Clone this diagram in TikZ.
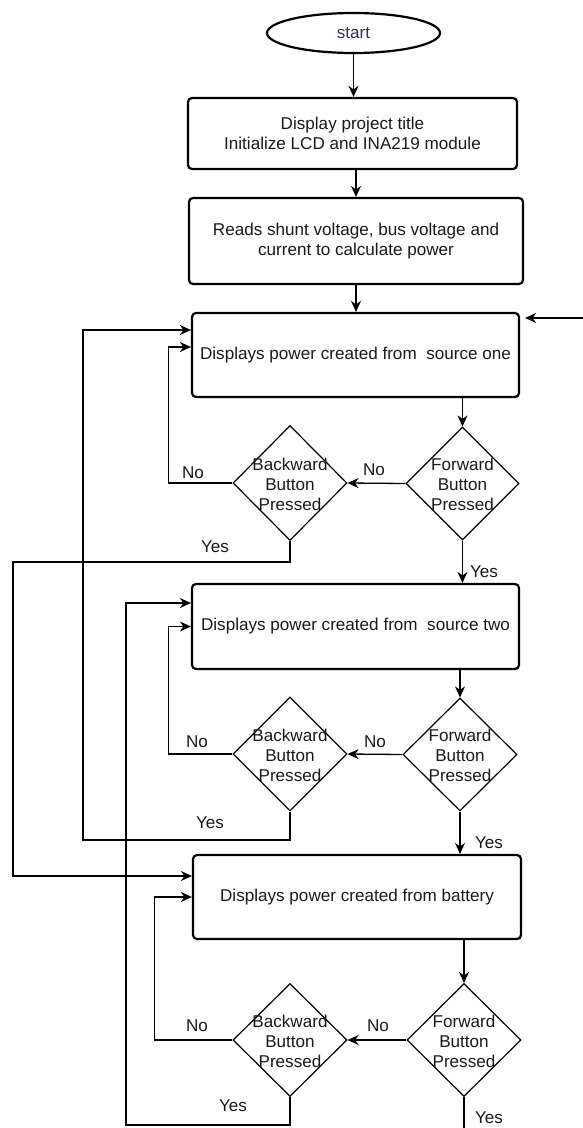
\documentclass[tikz,border=0pt]{standalone}
\usepackage{fontspec}
\setmainfont{Liberation Sans}
\usetikzlibrary{arrows.meta,shapes.geometric,calc}
\definecolor{ink}{RGB}{25,25,25}
\definecolor{startink}{RGB}{45,55,75}
\tikzset{
  base/.style={font=\fontsize{17.1}{20}\selectfont, text=ink, inner sep=0pt},
  proc/.style={base, draw=black, line width=2.2pt, rounded corners=4pt, align=center},
  term/.style={base, draw=black, line width=2.2pt, ellipse, text=startink},
  dec/.style={draw=black, line width=1.2pt, diamond, inner sep=0pt},
  dtext/.style={base, align=center},
  lab/.style={base},
  conn/.style={draw=black, line width=1.3pt},
  arr/.style={conn, -{Stealth[length=11pt,width=10pt,inset=3.5pt]}}
}
\begin{document}
\begin{tikzpicture}[x=1pt,y=-1pt]
\useasboundingbox (0,0) rectangle (583,1128);

% nodes
\node[term, minimum width=173pt, minimum height=40pt] (start) at (353.5,33) {start};
\node[proc, minimum width=329pt, minimum height=71pt] (b1x) at (352.5,133.5) {Display project title\\Initialize LCD and INA219 module};
\node[proc, minimum width=334pt, minimum height=86pt] (b2x) at (356,241) {Reads shunt voltage, bus voltage and\\current to calculate power};
\node[proc, minimum width=327pt, minimum height=84pt] (s1) at (355.5,355) {Displays power created from\ \ source one};
\node[proc, minimum width=327pt, minimum height=85pt] (s2) at (355.5,626.5) {Displays power created from\ \ source two};
\node[proc, minimum width=328pt, minimum height=84pt] (s3) at (357,897) {Displays power created from battery};

\node[dec, minimum width=114pt, minimum height=115pt] (bk1) at (290,483) {};
\node[dec, minimum width=113pt, minimum height=113pt] (fw1) at (462.5,483.5) {};
\node[dec, minimum width=114pt, minimum height=114pt] (bk2) at (290,754) {};
\node[dec, minimum width=114pt, minimum height=113pt] (fw2) at (460,754.5) {};
\node[dec, minimum width=114pt, minimum height=113pt] (bk3) at (290,1040) {};
\node[dec, minimum width=114pt, minimum height=113pt] (fw3) at (464,1040) {};

\node[dtext] (tbk1) at ([yshift=-1pt]bk1.center) {Backward\\Button\\Pressed};
\node[dtext] (tfw1) at ([yshift=-1pt]fw1.center) {Forward\\Button\\Pressed};
\node[dtext] (tbk2) at ([yshift=-1pt]bk2.center) {Backward\\Button\\Pressed};
\node[dtext] (tfw2) at ([yshift=-1pt]fw2.center) {Forward\\Button\\Pressed};
\node[dtext] (tbk3) at ([yshift=-1pt]bk3.center) {Backward\\Button\\Pressed};
\node[dtext] (tfw3) at ([yshift=-1pt]fw3.center) {Forward\\Button\\Pressed};

% free ends
\coordinate (rin) at (583,318);
\coordinate (bout) at (464,1128);

% main chain
\draw[arr] (start.south) -- (start.south |- b1x.north);
\draw[arr] (b2x.north |- b1x.south) -- (b2x.north);
\draw[arr] (b2x.south) -- (b2x.south |- s1.north);
\draw[arr] (rin) -- ([xshift=5pt,yshift=37pt]s1.east);

% stage 1
\draw[arr] (fw1.north |- s1.south) -- (fw1.north);
\draw[arr] (fw1.west) -- (bk1.east);
\draw[arr] (bk1.west) -- ++(-64,0) |- ([yshift=8pt]s1.west);
\draw[arr] (bk1.south) |- (13,562) |- ([yshift=21pt]s3.west);
\draw[arr] (fw1.south) -- (fw1.south |- s2.north);

% stage 2
\draw[arr] (fw2.north |- s2.south) -- (fw2.north);
\draw[arr] (fw2.west) -- (bk2.east);
\draw[arr] (bk2.west) -- ++(-64,0) |- (s2.west);
\draw[arr] (bk2.south) |- (83,840) |- ([yshift=25pt]s1.west);
\draw[arr] (fw2.south) -- (fw2.south |- s3.north);

% stage 3
\draw[arr] (fw3.north |- s3.south) -- (fw3.north);
\draw[arr] (fw3.west) -- (bk3.east);
\draw[arr] (bk3.west) -- ++(-78,0) |- (s3.west);
\draw[arr] (bk3.south) |- (126,1125) |- ([yshift=23.5pt]s2.west);
\draw[conn] (fw3.south) -- (bout);

% labels
\node[lab] (n1a) at (374,470) {No};
\node[lab] (n1b) at (193,473) {No};
\node[lab] (y1a) at (215,547) {Yes};
\node[lab] (y1b) at (484,572) {Yes};
\node[lab] (n2a) at (375,742) {No};
\node[lab] (n2b) at (197,742) {No};
\node[lab] (y2a) at (210,823) {Yes};
\node[lab] (y2b) at (489,843) {Yes};
\node[lab] (n3a) at (378,1026) {No};
\node[lab] (n3b) at (197,1026) {No};
\node[lab] (y3a) at (233,1106) {Yes};
\node[lab] (y3b) at (489,1118) {Yes};
\end{tikzpicture}
\end{document}
